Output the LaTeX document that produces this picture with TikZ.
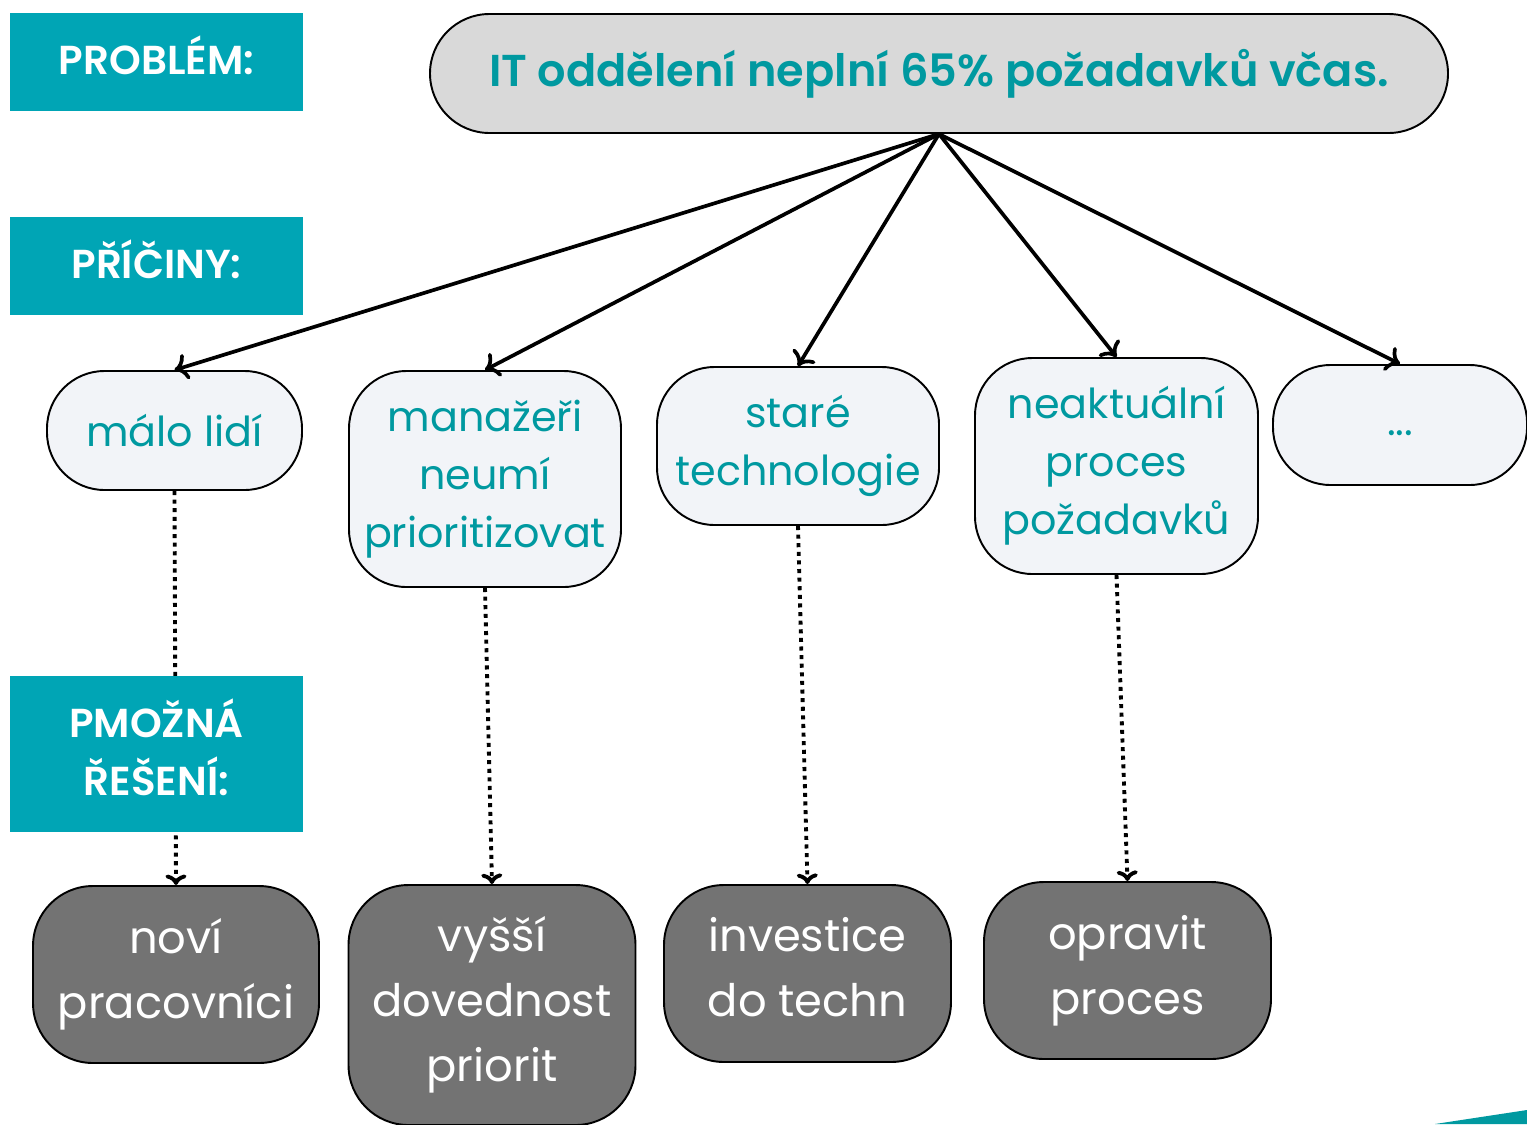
\documentclass[tikz,border=0pt]{standalone}
\usepackage{fontspec}
\setmainfont{Poppins}
\newfontfamily\popsemi{Poppins SemiBold}
\usetikzlibrary{arrows.meta}
\definecolor{tealbox}{RGB}{0,165,181}
\definecolor{tealtext}{RGB}{0,153,160}
\definecolor{topfill}{RGB}{217,217,217}
\definecolor{causefill}{RGB}{242,244,248}
\definecolor{solfill}{RGB}{115,115,115}
\begin{document}
\begin{tikzpicture}

\tikzstyle{label} = [fill=tealbox,text=white,font=\fontsize{23}{33}\popsemi,align=center,minimum width=5.86cm,inner sep=0,text depth=8pt];
\tikzstyle{cause} = [draw=black,line width=1.1pt,fill=causefill,text=tealtext,rounded corners=1.15cm,align=center,inner sep=0,font=\fontsize{23.5}{33}\selectfont];
\tikzstyle{solution} = [draw=black,line width=1.1pt,fill=solfill,text=white,rounded corners=1.2cm,align=center,inner sep=0,font=\fontsize{25.5}{37}\selectfont,minimum width=5.74cm];
\tikzstyle{boldarrow} = [-{To[length=7.5pt,width=15pt]},line width=2.1pt];
\tikzstyle{dotarrow} = [-{To[length=6pt,width=12pt]},line width=2.2pt,dash pattern=on 2.3pt off 2.6pt];

\clip (0,0) rectangle (30.54,-22.48);

\node[draw=black,line width=1.1pt,fill=topfill,text=tealtext,rounded corners=1.19cm,minimum width=20.36cm,minimum height=2.38cm,inner sep=0,font=\fontsize{25.4}{30}\popsemi] (top) at (18.78,-1.47) {IT oddělení neplní 65\% požadavků včas.};

\node[cause,minimum width=5.1cm,minimum height=2.38cm] (c1) at (3.49,-8.61) {málo lidí};
\node[cause,minimum width=5.44cm,minimum height=4.32cm] (c2) at (9.70,-9.58) {manažeři\\neumí\\prioritizovat};
\node[cause,minimum width=5.64cm,minimum height=3.16cm] (c3) at (15.96,-8.92) {staré\\technologie};
\node[cause,minimum width=5.66cm,minimum height=4.32cm] (c4) at (22.33,-9.32) {neaktuální\\proces\\požadavků};
\node[cause,minimum width=5.08cm,minimum height=2.4cm] (c5) at (28.0,-8.5) {\raisebox{-0.43cm}{...}};

\node[solution,minimum width=5.72cm,minimum height=3.54cm] (s1) at (3.52,-19.49) {noví\\pracovníci};
\node[solution,minimum height=4.8cm] (s2) at (9.84,-20.1) {vyšší\\dovednost\\priorit};
\node[solution,minimum height=3.54cm,text depth=7pt] (s3) at (16.15,-19.47) {investice\\do techn};
\node[solution,minimum height=3.54cm] (s4) at (22.55,-19.41) {opravit\\proces};

\foreach \i in {1,...,5}
  \draw[boldarrow] (top.south) -- (c\i.north);
\foreach \i in {1,...,4}
  \draw[dotarrow] (c\i.south) -- (s\i.north);

% labels on the left, drawn over the dotted line
\node[label,minimum height=1.96cm] (lab1) at (3.13,-1.24) {PROBLÉM:};
\node[label,minimum height=1.96cm] (lab2) at (3.13,-5.32) {PŘÍČINY:};
\node[label,minimum height=3.12cm] (lab3) at (3.13,-15.08) {PMOŽNÁ\\ŘEŠENÍ:};

\fill[tealtext] (28.7,-22.48) -- (30.54,-22.2) -- (30.54,-22.48) -- cycle;
\end{tikzpicture}
\end{document}
